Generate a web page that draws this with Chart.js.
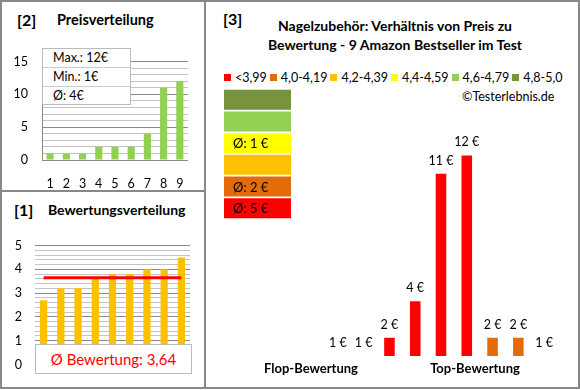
<!DOCTYPE html>
<html><head><meta charset="utf-8">
<script src="https://cdn.jsdelivr.net/npm/chart.js@4"></script>
<style>
html,body{margin:0;padding:0;background:#fff;}
#wrap{position:relative;width:580px;height:390px;overflow:hidden;font-family:Lato,'Noto Sans',sans-serif;color:#000;}
.frame{position:absolute;left:0;top:0;width:576px;height:385px;border:2px solid #888;}
.vline{position:absolute;left:204px;top:0;width:2px;height:389px;background:#888;}
.hline{position:absolute;left:0;top:190px;width:205px;height:2px;background:#888;}
.t{position:absolute;white-space:nowrap;font-weight:bold;line-height:1;}
canvas{position:absolute;}
#stats{position:absolute;left:42px;top:48px;width:87px;height:55px;background:#fff;border:1px solid #bbb;font-size:12.5px;}
#stats div{height:18px;line-height:18px;padding-left:10px;border-bottom:1px solid #ccc;}
#stats div:last-child{border-bottom:none;}
#avgbox{position:absolute;left:35px;top:344px;width:155px;height:28px;background:#fff;border:1px solid #bbb;color:#f00;font-size:15px;text-align:center;line-height:28px;}
#legend{position:absolute;left:224px;top:71px;display:flex;gap:3px;font-size:12.5px;line-height:14px;}
#legend span.sw{display:inline-block;width:7px;height:7px;margin-right:4px;vertical-align:1px;}
</style></head>
<body><div id="wrap">
<div class="frame"></div><div class="vline"></div><div class="hline"></div>

<div class="t" style="left:17px;top:12px;font-size:16px;">[2]</div>
<div class="t" style="left:57px;top:13px;font-size:14.5px;">Preisverteilung</div>
<canvas id="cPrice" width="200" height="155" style="left:0;top:40px;"></canvas>
<div id="stats"></div>

<div class="t" style="left:14px;top:202px;font-size:16px;">[1]</div>
<div class="t" style="left:48px;top:203px;font-size:14px;">Bewertungsverteilung</div>
<canvas id="cRating" width="200" height="160" style="left:0;top:225px;"></canvas>
<div id="avgbox"></div>

<div class="t" style="left:223px;top:11px;font-size:16px;">[3]</div>
<div class="t" style="left:205px;top:19px;width:380px;text-align:center;font-size:14px;">Nagelzubehör: Verhältnis von Preis zu</div>
<div class="t" style="left:205px;top:38px;width:380px;text-align:center;font-size:14px;">Bewertung - 9 Amazon Bestseller im Test</div>
<div id="legend"></div>
<div class="t" style="left:462px;top:91px;font-size:12.5px;font-weight:normal;">©Testerlebnis.de</div>
<canvas id="cGroups" width="75" height="132" style="left:220px;top:88px;"></canvas>
<canvas id="cTop" width="260" height="270" style="left:320px;top:100px;"></canvas>
<div class="t" style="left:240px;top:362px;width:142px;text-align:center;font-size:13px;">Flop-Bewertung</div>
<div class="t" style="left:405px;top:362px;width:140px;text-align:center;font-size:13px;">Top-Bewertung</div>
</div>
<script>
// ---- data ----
const priceCategories = ['1','2','3','4','5','6','7','8','9'];
const priceValues = [1,1,1,2,2,2,4,11,12];
const priceTicks = [0,5,10,15];

const ratingCategories = ['1','2','3','4','5','6','7','8','9'];
const ratingValues = [2.7,3.2,3.2,3.6,3.8,3.8,4.0,4.0,4.5];
const ratingAverage = 3.64;
const ratingTicks = [0,1,2,3,4,5];

const rangeLabels = ['<3,99','4,0-4,19','4,2-4,39','4,4-4,59','4,6-4,79','4,8-5,0'];
const rangeColors = ['#FF0000','#E36C09','#FFC000','#FFFF00','#92D050','#77933C'];
const rangeAverageLabels = ['Ø: 5 €','Ø: 2 €','','Ø: 1 €','',''];
const rangeBoxValues = [1,1,1,1,1,1];

const productCategories = ['1','2','3','4','5','6','7','8','9']; // Flop -> Top
const productPrices = [1,1,2,4,11,12,2,2,1];
const productRange = [0,0,0,0,0,0,1,1,3];

// ---- text parts ----
const pMax = Math.max(...priceValues), pMin = Math.min(...priceValues);
const pAvg = Math.round(priceValues.reduce((a,b)=>a+b,0)/priceValues.length);
document.getElementById('stats').innerHTML =
  '<div>Max.: '+pMax+'€</div><div>Min.: '+pMin+'€</div><div>Ø: '+pAvg+'€</div>';
document.getElementById('avgbox').textContent = 'Ø Bewertung: ' + ratingAverage.toFixed(2).replace('.', ',');
document.getElementById('legend').innerHTML = rangeLabels.map((l,i)=>
  '<div><span class="sw" style="background:'+rangeColors[i]+'"></span>'+l.replace('<','&lt;')+'</div>').join('');

Chart.defaults.font.family = "Lato, 'Noto Sans', sans-serif";
Chart.defaults.color = '#000';
const noPlugins = {legend:{display:false}, tooltip:{enabled:false}};
const near = (v, arr) => arr.some(t => Math.abs(t - v) < 1e-6);

// ---- [2] Preisverteilung ----
new Chart(document.getElementById('cPrice'), {
  type:'bar',
  data:{labels:priceCategories, datasets:[{data:priceValues, backgroundColor:'#92D050', categoryPercentage:1, barPercentage:0.44}]},
  options:{responsive:false, animation:false, plugins:noPlugins,
    layout:{padding:{top:7,right:10,left:0,bottom:0}},
    scales:{
      x:{grid:{display:false,drawTicks:false}, border:{display:false}, ticks:{font:{size:12.5}, padding:16},
         afterFit(s){s.height=35;}},
      y:{min:0, max:15, ticks:{stepSize:1, autoSkip:false, font:{size:12.5}, padding:14,
           callback:v=>near(v,priceTicks)?v:''},
         grid:{drawTicks:false, color:c=>near(c.tick.value,priceTicks)?'#8a8a8a':'#c4c4c4'},
         border:{display:true, color:'#8a8a8a'},
         afterFit(s){s.width=42;}}
    }}
});

// ---- [1] Bewertungsverteilung ----
new Chart(document.getElementById('cRating'), {
  type:'bar',
  data:{labels:ratingCategories, datasets:[
    {type:'line', data:ratingCategories.map(()=>ratingAverage), borderColor:'#FF0000', borderWidth:3, pointRadius:0, order:0},
    {data:ratingValues, backgroundColor:'#FFC000', categoryPercentage:1, barPercentage:0.42, order:1}
  ]},
  options:{responsive:false, animation:false, plugins:noPlugins,
    layout:{padding:{top:13,right:10,left:0,bottom:12}},
    scales:{
      x:{display:false},
      y:{min:0, max:5, ticks:{stepSize:0.2, autoSkip:false, font:{size:12.5}, padding:13,
           callback:v=>near(v,ratingTicks)?Math.round(v):''},
         grid:{drawTicks:false, color:c=>near(c.tick.value,ratingTicks)?'#8a8a8a':'#c4c4c4'},
         border:{display:false},
         afterFit(s){s.width=35;}}
    }}
});

// ---- [3] range boxes ----
const boxOrder = rangeLabels.map((_,i)=>i).reverse();
new Chart(document.getElementById('cGroups'), {
  type:'bar',
  data:{labels:boxOrder.map(i=>rangeLabels[i]), datasets:[{
    data:boxOrder.map(i=>rangeBoxValues[i]),
    backgroundColor:boxOrder.map(i=>rangeColors[i]),
    categoryPercentage:1, barPercentage:0.92}]},
  options:{indexAxis:'y', responsive:false, animation:false, plugins:noPlugins,
    layout:{padding:{top:1,bottom:1,left:4,right:4}},
    scales:{x:{display:false,min:0,max:1}, y:{display:false}}},
  plugins:[{id:'boxText', afterDatasetsDraw(chart){
    const ctx = chart.ctx, meta = chart.getDatasetMeta(0);
    ctx.save(); ctx.font = "13px Lato, 'Noto Sans', sans-serif"; ctx.fillStyle = '#000';
    ctx.textBaseline = 'middle'; ctx.textAlign = 'left';
    meta.data.forEach((el,k)=>{ const t = rangeAverageLabels[boxOrder[k]]; if (t) ctx.fillText(t, chart.chartArea.left + 9, el.y + 1); });
    ctx.restore();
  }}]
});

// ---- [3] products by rating ----
new Chart(document.getElementById('cTop'), {
  type:'bar',
  data:{labels:productCategories, datasets:[{
    data:productPrices, backgroundColor:productRange.map(r=>rangeColors[r]),
    categoryPercentage:1, barPercentage:0.41}]},
  options:{responsive:false, animation:false, plugins:noPlugins,
    layout:{padding:{top:19,bottom:14,left:5,right:23}},
    scales:{x:{display:false}, y:{display:false, min:1, max:14}}},
  plugins:[{id:'valLabels', afterDatasetsDraw(chart){
    const ctx = chart.ctx, meta = chart.getDatasetMeta(0);
    ctx.save(); ctx.font = "12.5px Lato, 'Noto Sans', sans-serif"; ctx.fillStyle = '#000';
    ctx.textBaseline = 'middle'; ctx.textAlign = 'center';
    meta.data.forEach((el,k)=>{ ctx.fillText(productPrices[k] + ' €', el.x, el.y - 13); });
    ctx.restore();
  }}]
});
</script>
</body></html>
